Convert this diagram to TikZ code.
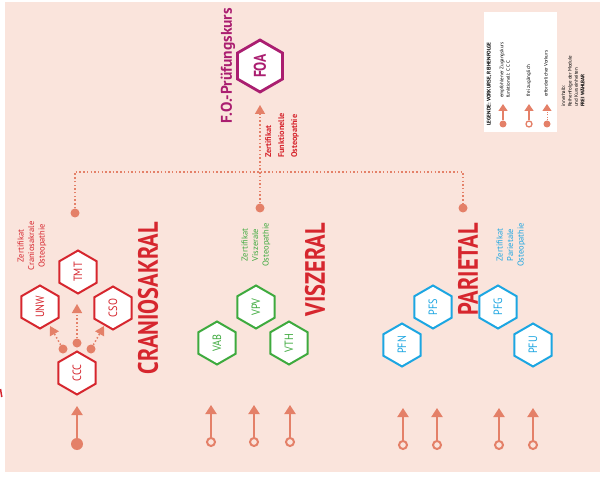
\documentclass[tikz,border=0pt]{standalone}
\usepackage{fontspec}
\setmainfont{PT Sans}
\newfontfamily\headfont[FakeStretch=0.8]{PT Sans}
\newfontfamily\narrowfont[FakeStretch=0.85]{PT Sans}
\usetikzlibrary{shapes.geometric,arrows.meta}

\definecolor{bgpink}{RGB}{250,228,220}
\definecolor{salmon}{RGB}{228,128,104}
\definecolor{darkred}{RGB}{214,38,46}
\definecolor{leafgreen}{RGB}{62,170,62}
\definecolor{skyblue}{RGB}{28,166,226}
\definecolor{plum}{RGB}{170,30,112}

\tikzset{
  hexa/.style={regular polygon,regular polygon sides=6,minimum size=43pt,inner sep=0pt,
    fill=white,line width=2pt,rotate=90,font=\narrowfont\fontsize{12}{12}\selectfont},
  redhex/.style={hexa,draw=darkred,text=darkred},
  greenhex/.style={hexa,draw=leafgreen,text=leafgreen},
  bluehex/.style={hexa,draw=skyblue,text=skyblue},
  fdot/.style={circle,fill=salmon,inner sep=0pt,minimum size=9pt},
  odot/.style={circle,draw=salmon,fill=bgpink,line width=2pt,inner sep=0pt,minimum size=8pt},
  arr/.style={salmon,line width=2pt,-{Triangle[width=11pt,length=9pt]}},
  dotline/.style={salmon,line width=1.5pt,dash pattern=on 1.5pt off 2.2pt},
  dotarr/.style={dotline,-{Triangle[width=10pt,length=9pt]}},
  head/.style={rotate=90,anchor=east,inner sep=0pt,text=darkred,
    font=\headfont\bfseries\fontsize{28}{28}\selectfont},
  cert/.style={rotate=90,align=center,inner sep=0pt,font=\fontsize{8.5}{10.5}\selectfont},
  legtext/.style={rotate=90,anchor=west,align=left,inner sep=0pt,font=\fontsize{5}{6.5}\selectfont}
}

\begin{document}
\begin{tikzpicture}[x=1pt,y=-1pt]
\useasboundingbox (0,0) rectangle (603,484);
\fill[bgpink] (5,2) rectangle (600,472);
\draw[darkred,line width=1.5pt] (0.5,389) -- (1.8,397);

% legend
\fill[white] (484,12) rectangle (557,132);
\node[legtext,font=\bfseries\fontsize{5.3}{6.5}\selectfont] (legtitle) at (489,126) {LEGENDE: VORKURSE, REIHENFOLGE};
\node[legtext] (legone) at (505,98) {empfohlener Zugangskurs\\funktionell: C C C};
\node[legtext] (legtwo) at (529,97) {frei zugänglich};
\node[legtext] (legthree) at (546,97) {erforderlicher Vorkurs};
\node[legtext] (legnote) at (573,107) {innerhalb:\\Reihenfolge der Module\\und Kurseinheiten\\\textbf{FREI WÄHLBAR}};
\node[fdot,minimum size=7pt] (lg1) at (503,124) {};
\node[odot,minimum size=6pt,line width=1.3pt,fill=white] (lg2) at (529,124) {};
\node[fdot,minimum size=7pt] (lg3) at (547,124) {};
\coordinate (lg1t) at (503,104);
\coordinate (lg2t) at (529,104);
\coordinate (lg3t) at (547,104);
\draw[salmon,line width=1.3pt,-{Triangle[width=9pt,length=7pt]}] (lg1) -- (lg1t);
\draw[salmon,line width=1.3pt,-{Triangle[width=9pt,length=7pt]}] (lg2) -- (lg2t);
\draw[salmon,line width=1pt,dash pattern=on 1pt off 1.5pt,-{Triangle[width=9pt,length=7pt]}] (lg3) -- (lg3t);

% FOA
\node[hexa,draw=plum,text=plum,minimum size=52pt,line width=2.8pt,
  font=\headfont\bfseries\fontsize{17}{17}\selectfont] (foa) at (260,66) {FOA};
\node[rotate=90,inner sep=0pt,text=plum,font=\bfseries\fontsize{15.5}{15.5}\selectfont] (kurs) at (228,66) {F.O.-Prüfungskurs};
\node[cert,anchor=west,align=left,text=darkred,font=\bfseries\fontsize{8.3}{13}\selectfont] (fo) at (282,158)
  {Zertifikat\\Funktionelle\\Osteopathie};

% tree
\node[fdot] (k1) at (75,213) {};
\node[fdot] (k2) at (260,208) {};
\node[fdot] (k3) at (463,208) {};
\coordinate (j) at (260,172);
\coordinate (ft) at (260,105);
\draw[dotline] (k1) |- (j) -| (k3);
\draw[dotarr] (k2) -- (ft);

% craniosakral
\node[head] (cran) at (148,222) {CRANIOSAKRAL};
\node[cert,text=darkred] (crancert) at (32,246) {Zertifikat\\Craniosakrale\\Osteopathie};
\node[redhex] (ccc) at (77,373) {CCC};
\node[redhex] (tmt) at (78,272) {TMT};
\node[redhex] (unw) at (40,307) {UNW};
\node[redhex] (cso) at (113,308) {CSO};
\node[fdot] (d1) at (63,349) {};
\node[fdot] (d2) at (77,343) {};
\node[fdot] (d3) at (91,349) {};
\coordinate (t1) at (50,326);
\coordinate (t2) at (77,304);
\coordinate (t3) at (104,326);
\draw[dotarr] (d1) -- (t1);
\draw[dotarr] (d2) -- (t2);
\draw[dotarr] (d3) -- (t3);

% viszeral
\node[head] (visz) at (315,223) {VISZERAL};
\node[cert,text=leafgreen] (viszcert) at (256,245) {Zertifikat\\Viszerale\\Osteopathie};
\node[greenhex] (vpv) at (256,307) {VPV};
\node[greenhex] (vab) at (217,343) {VAB};
\node[greenhex] (vth) at (289,343) {VTH};

% parietal
\node[head] (pari) at (468,223) {PARIETAL};
\node[cert,text=skyblue] (paricert) at (511,245) {Zertifikat\\Parietale\\Osteopathie};
\node[bluehex] (pfs) at (433,307) {PFS};
\node[bluehex] (pfn) at (402,345) {PFN};
\node[bluehex] (pfg) at (498,307) {PFG};
\node[bluehex] (pfu) at (533,345) {PFU};

% entry arrows
\node[fdot,minimum size=12pt] (b0) at (77,444) {};
\coordinate (b0t) at (77,406);
\draw[arr] (b0) -- (b0t);
\foreach \x/\y in {211/405,254/405,290/405,403/408,437/408,499/408,533/408} {
  \node[odot] (o\x) at (\x,\y+37) {};
  \coordinate (o\x t) at (\x,\y);
  \draw[arr] (o\x) -- (o\x t);
}
\end{tikzpicture}
\end{document}
